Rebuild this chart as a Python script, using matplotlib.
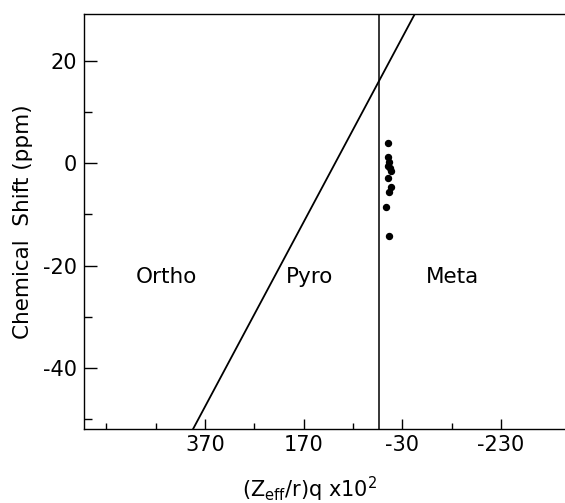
import matplotlib
matplotlib.use("Agg")
import matplotlib.pyplot as plt
from matplotlib.ticker import FixedLocator

# Data
pts_x = [-0.4, -1.6, -3.0, -1.6, -5.0, -6.5, -0.4, -7.7, -3.7, 3.0, -3.0]
pts_y = [3.9, 1.3, 0.3, -0.5, -1.0, -1.6, -2.9, -4.6, -5.7, -8.5, -14.3]
boundary_x = [394, -56]
boundary_y = [-52, 29.3]
meta_boundary_x = 17
region_labels = ["Ortho", "Pyro", "Meta"]
region_x = [447, 157, -131]
region_y = [-22.2, -22.2, -22.2]
x_major = [370, 170, -30, -230]
x_minor = [570, 470, 270, 70, -130]
y_major = [20, 0, -20, -40]
y_minor = [10, -10, -30, -50]

plt.rcParams['font.family'] = ['DejaVu Sans']
plt.rcParams['axes.unicode_minus'] = False
fig = plt.figure(figsize=(5.65, 5.03), dpi=100)
ax = fig.add_axes([0.1487, 0.147, 1.0 - 0.1487, 0.973 - 0.147])

ax.plot(boundary_x, boundary_y, color='black', lw=1.3)
ax.axvline(meta_boundary_x, color='black', lw=1.1)
ax.plot(pts_x, pts_y, 'o', color='black', markersize=4.3)

for lab, x, y in zip(region_labels, region_x, region_y):
    ax.text(x, y, lab, ha='center', va='center', fontsize=15.5)

ax.set_xlim(615, -360)
ax.set_ylim(-52, 29.3)

ax.xaxis.set_major_locator(FixedLocator(x_major))
ax.xaxis.set_minor_locator(FixedLocator(x_minor))
ax.yaxis.set_major_locator(FixedLocator(y_major))
ax.yaxis.set_minor_locator(FixedLocator(y_minor))

ax.tick_params(axis='x', which='major', direction='in', length=7, width=1, labelsize=15, pad=4)
ax.tick_params(axis='x', which='minor', direction='in', length=4.5, width=1)
ax.tick_params(axis='y', which='major', direction='in', length=9, width=1, labelsize=15, pad=5)
ax.tick_params(axis='y', which='minor', direction='in', length=5.5, width=1)

ax.spines['right'].set_visible(False)
for s in ['left', 'top', 'bottom']:
    ax.spines[s].set_linewidth(1.0)

ax.set_xlabel(r'(Z$_{\mathrm{eff}}$/r)q x10$^{2}$', fontsize=15)
ax.xaxis.label.set_va('center')
ax.xaxis.set_label_coords(0.47, -0.145)
ax.set_ylabel('Chemical  Shift (ppm)', fontsize=15.5)
ax.yaxis.label.set_va('center')
ax.yaxis.set_label_coords(-0.127, 0.5)

fig.savefig('out.png', dpi=100)
